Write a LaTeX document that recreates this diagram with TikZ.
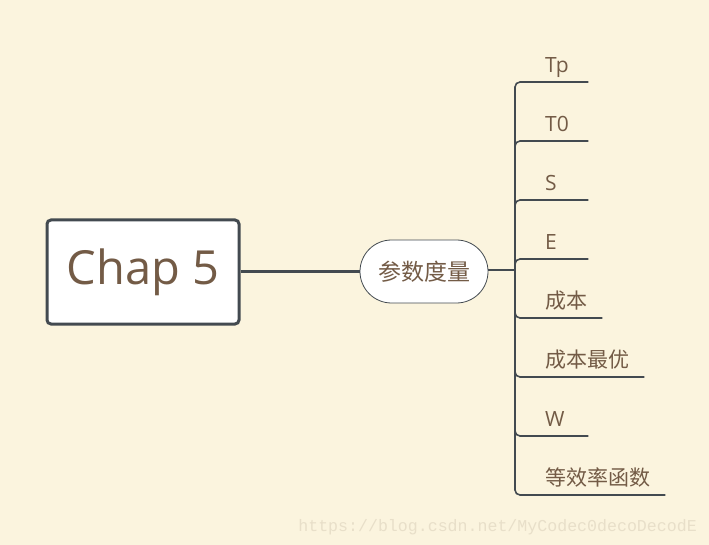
\documentclass[tikz,border=0pt]{standalone}
\usepackage{fontspec}
\setmainfont{Open Sans}
\newfontfamily\cjk{Noto Sans CJK SC}
\newfontfamily\markfont{Liberation Mono}
\usetikzlibrary{positioning}

\definecolor{paper}{HTML}{FBF4DE}
\definecolor{ink}{HTML}{434A50}
\definecolor{wood}{HTML}{735B46}
\definecolor{faint}{HTML}{E8DFC9}

\tikzset{
  chapBox/.style={draw=ink, line width=3, fill=white, rounded corners=4,
    minimum width=192, minimum height=104, text=wood,
    font=\fontsize{47}{50}\selectfont},
  topicOval/.style={draw=ink, line width=0.8, fill=white, rounded corners=31.5,
    minimum width=128, minimum height=63, text=wood,
    font=\cjk\fontsize{23}{26}\selectfont},
  leaf/.style={anchor=south west, inner xsep=15, inner ysep=0,
    text height=16, text depth=9, text=wood,
    font=\fontsize{21}{24}\selectfont},
  shortLeaf/.style={leaf, text width=28, align=left},
  mainLink/.style={draw=ink, line width=3},
  branch/.style={draw=ink, line width=1.6, rounded corners=5}
}

\begin{document}
\begin{tikzpicture}[x=1pt, y=-1pt]
  \useasboundingbox[fill=paper] (0,0) rectangle (709,545);

  \node[chapBox] (chap) at (143,272) {Chap 5};
  \node[topicOval] (measure) at (424,271.5) {参数度量};
  \coordinate (fork) at (515,270);

  \node[shortLeaf] (tp) at (530,82) {Tp};
  \node[shortLeaf] (tzero) at (530,141) {T0};
  \node[shortLeaf] (speedup) at (530,200) {S};
  \node[shortLeaf] (efficiency) at (530,259) {E};
  \node[leaf] (cost) at (530,318) {\cjk 成本};
  \node[leaf] (costOpt) at (530,377) {\cjk 成本最优};
  \node[shortLeaf] (work) at (530,436) {W};
  \node[leaf] (isoEff) at (530,495) {\cjk 等效率函数};

  \draw[mainLink] (chap.east) -- (chap.east -| measure.west);
  \draw[draw=ink, line width=2] (measure.east |- fork) -- (fork);
  \foreach \n in {tp,tzero,speedup,efficiency,cost,costOpt,work,isoEff}
    \draw[branch] (fork) |- (\n.south east);

  \node[anchor=base east, inner sep=0, text=faint,
    font=\markfont\fontsize{16.6}{18}\selectfont] (mark) at (697,531)
    {https://blog.csdn.net/MyCodec0decoDecodE};
\end{tikzpicture}
\end{document}
